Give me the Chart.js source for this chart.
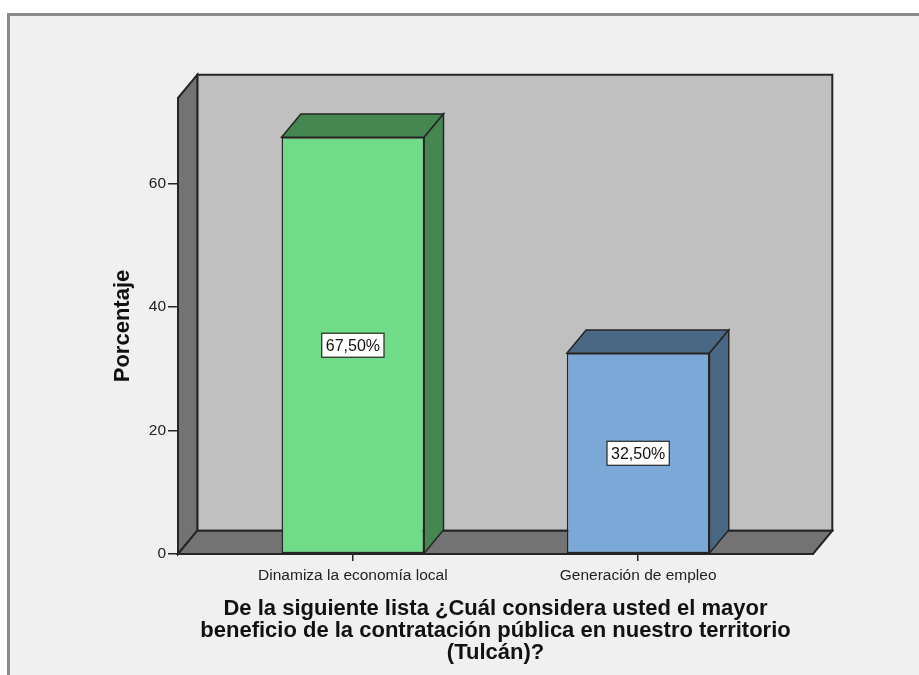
<!DOCTYPE html>
<html>
<head>
<meta charset="utf-8">
<script src="https://cdn.jsdelivr.net/npm/chart.js@4.4.1/dist/chart.umd.min.js"></script>
<style>
  html, body { margin: 0; padding: 0; background: #fff; }
  #frame {
    position: absolute; left: 7px; top: 13px; width: 912px; height: 662px;
    background: #f0f0f0; border-top: 3px solid #8a8a8a; border-left: 3px solid #8a8a8a;
  }
  #myCanvas { position: absolute; left: 0; top: 0; }
</style>
</head>
<body>
<div id="frame"></div>
<canvas id="myCanvas" width="919" height="675"></canvas>
<script>
const categories = ["Dinamiza la economía local", "Generación de empleo"];
const percentages = [67.5, 32.5];
const yTicks = [0, 20, 40, 60];
const yMax = 73.85;
const frontColors = ["#71dc87", "#7ba9d7"];
const sideColors = ["#448751", "#4a6784"];
const xTitle = [
  "De la siguiente lista ¿Cuál considera usted el mayor",
  "beneficio de la contratación pública en nuestro territorio",
  "(Tulcán)?"
];
const yTitle = "Porcentaje";

// 3d depth of the walls and bars
const DX = 19.3, DY = -23.3;
const SIDE_GAP = 0.113; // extra empty room left/right of the categories
const LINE = "#252525";

Chart.defaults.font.family = "'Liberation Sans', Arial, sans-serif";

function poly(ctx, pts, fill) {
  ctx.beginPath();
  ctx.moveTo(pts[0][0], pts[0][1]);
  for (let i = 1; i < pts.length; i++) ctx.lineTo(pts[i][0], pts[i][1]);
  ctx.closePath();
  ctx.fillStyle = fill;
  ctx.fill();
  ctx.stroke();
}

const frame3d = {
  id: "frame3d",
  beforeDraw(chart) {
    const { ctx, chartArea: a, scales: { y } } = chart;
    const top = y.getPixelForValue(y.max);
    const bot = y.getPixelForValue(0);
    ctx.save();
    ctx.lineWidth = 2;
    ctx.strokeStyle = LINE;
    ctx.lineJoin = "miter";
    poly(ctx, [[a.left + DX, top + DY], [a.right + DX, top + DY], [a.right + DX, bot + DY], [a.left + DX, bot + DY]], "#c0c0c0");
    poly(ctx, [[a.left, top], [a.left + DX, top + DY], [a.left + DX, bot + DY], [a.left, bot]], "#737373");
    poly(ctx, [[a.left, bot], [a.left + DX, bot + DY], [a.right + DX, bot + DY], [a.right, bot]], "#737373");
    ctx.restore();
  },
  afterDatasetsDraw(chart) {
    const ctx = chart.ctx;
    const meta = chart.getDatasetMeta(0);
    ctx.save();
    ctx.lineWidth = 1.5;
    ctx.strokeStyle = LINE;
    meta.data.forEach((bar, i) => {
      const { x, y, base, width } = bar.getProps(["x", "y", "base", "width"], true);
      const l = x - width / 2, r = x + width / 2;
      poly(ctx, [[l, y], [l + DX, y + DY], [r + DX, y + DY], [r, y]], sideColors[i]);
      poly(ctx, [[r, y], [r + DX, y + DY], [r + DX, base + DY], [r, base]], sideColors[i]);

      // value label
      const txt = percentages[i].toFixed(2).replace(".", ",") + "%";
      ctx.font = "16px 'Liberation Sans', Arial, sans-serif";
      const tw = ctx.measureText(txt).width;
      const cy = (y + base) / 2;
      const bw = tw + 8, bh = 24;
      ctx.fillStyle = "#fff";
      ctx.fillRect(x - bw / 2, cy - bh / 2, bw, bh);
      ctx.lineWidth = 1.2;
      ctx.strokeRect(x - bw / 2, cy - bh / 2, bw, bh);
      ctx.fillStyle = "#111";
      ctx.textAlign = "center";
      ctx.textBaseline = "middle";
      ctx.fillText(txt, x, cy + 1);
      ctx.lineWidth = 1.5;
    });
    ctx.restore();
  }
};

const canvas = document.getElementById("myCanvas");
new Chart(canvas.getContext("2d"), {
  type: "bar",
  data: {
    labels: categories,
    datasets: [{
      data: percentages,
      backgroundColor: frontColors,
      borderColor: LINE,
      borderWidth: 1.5,
      borderSkipped: false,
      categoryPercentage: 1,
      barPercentage: 0.5
    }]
  },
  options: {
    responsive: false,
    animation: false,
    layout: { padding: { left: 108, top: 98, right: 106, bottom: 7 } },
    plugins: { legend: { display: false }, tooltip: { enabled: false } },
    scales: {
      x: {
        offset: true,
        grid: { offset: false, drawOnChartArea: false, color: LINE, lineWidth: 1.5, tickLength: 7 },
        border: { color: LINE, width: 2 },
        ticks: { color: "#222", font: { size: 15.5 }, padding: 5, maxRotation: 0 },
        title: {
          display: true, text: xTitle, color: "#111",
          font: { size: 22, weight: "bold", lineHeight: 1 },
          padding: { top: 4, bottom: 4 }
        },
        afterFit(s) { s.height = 114; },
        afterBuildTicks(s) {
          s._startValue -= SIDE_GAP;
          s._valueRange += 2 * SIDE_GAP;
        }
      },
      y: {
        min: 0,
        max: yMax,
        grid: { drawOnChartArea: false, color: LINE, lineWidth: 1.5, tickLength: 10 },
        border: { color: LINE, width: 2 },
        ticks: { color: "#222", font: { size: 15.5 }, padding: 2 },
        title: {
          display: true, text: yTitle, color: "#111",
          font: { size: 22, weight: "bold", lineHeight: 1 },
          padding: { top: 4, bottom: 4 }
        },
        afterFit(s) { s.width = 70; },
        afterBuildTicks(s) { s.ticks = yTicks.map(v => ({ value: v })); }
      }
    }
  },
  plugins: [frame3d]
});
</script>
</body>
</html>
